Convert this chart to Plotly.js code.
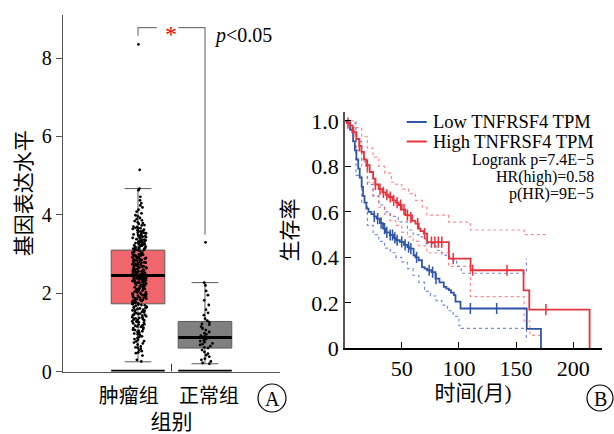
<!DOCTYPE html>
<html><head><meta charset="utf-8">
<script src="https://cdn.plot.ly/plotly-3.0.1.min.js"></script>
<style>html,body{margin:0;padding:0;background:#fff}#chart{width:614px;height:434px}</style>
</head><body><div id="chart"></div>
<script>
// ---------- Panel A data ----------
const groups = ['肿瘤组', '正常组'];
// [lowerfence, q1, median, q3, upperfence]
const tumorBox = [0.25, 1.73, 2.45, 3.1, 4.67];
const normalBox = [0.2, 0.6, 0.87, 1.28, 2.27];
const tumorExpr = [
 8.35, 5.15, 4.67, 4.63, 4.46, 4.37, 4.3, 4.24, 4.19, 4.13, 4.08, 4.04, 3.99, 3.96, 3.92, 3.89, 3.86, 3.84, 3.81, 3.79,
 3.77, 3.74, 3.73, 3.7, 3.69, 3.67, 3.65, 3.64, 3.62, 3.61, 3.59, 3.57, 3.56, 3.55, 3.53, 3.52, 3.5, 3.49, 3.48, 3.46,
 3.45, 3.44, 3.42, 3.41, 3.4, 3.38, 3.37, 3.36, 3.34, 3.33, 3.32, 3.31, 3.29, 3.28, 3.27, 3.26, 3.24, 3.23, 3.22, 3.21,
 3.2, 3.18, 3.17, 3.16, 3.15, 3.14, 3.13, 3.12, 3.11, 3.1, 3.58, 3.47, 3.35, 3.25, 3.19, 3.66, 3.54, 3.43, 3.3, 3.15,
 3.09, 3.08, 3.06, 3.05, 3.04, 3.03, 3.01, 3.0, 2.99, 2.97, 2.96, 2.95, 2.94, 2.92, 2.91, 2.9, 2.89, 2.88, 2.86, 2.85,
 2.84, 2.83, 2.81, 2.8, 2.79, 2.78, 2.77, 2.75, 2.74, 2.73, 2.72, 2.71, 2.69, 2.68, 2.67, 2.66, 2.65, 2.64, 2.62, 2.61,
 2.6, 2.59, 2.58, 2.57, 2.56, 2.55, 2.54, 2.53, 2.52, 2.51, 2.5, 2.49, 2.48, 2.47, 2.46, 3.02, 2.93, 2.87, 2.76, 2.7,
 2.63, 2.57, 2.51, 2.98, 2.82, 2.91, 2.79, 2.68, 2.55, 2.47,
 2.44, 2.43, 2.42, 2.41, 2.4, 2.39, 2.38, 2.37, 2.36, 2.35, 2.34, 2.33, 2.32, 2.31, 2.3, 2.29, 2.28, 2.27, 2.26, 2.24,
 2.23, 2.22, 2.21, 2.2, 2.18, 2.17, 2.16, 2.15, 2.14, 2.12, 2.11, 2.1, 2.09, 2.08, 2.06, 2.05, 2.04, 2.03, 2.01, 2.0,
 1.99, 1.97, 1.96, 1.95, 1.93, 1.92, 1.91, 1.89, 1.88, 1.87, 1.85, 1.84, 1.83, 1.81, 1.8, 1.79, 1.78, 1.76, 1.75, 1.74,
 2.38, 2.25, 2.13, 2.02, 1.94, 1.86, 1.77, 2.19, 2.07, 2.33, 2.28, 1.98, 1.9, 2.41, 1.82, 2.36, 2.22, 2.11, 1.97, 1.85,
 1.72, 1.71, 1.7, 1.69, 1.68, 1.66, 1.65, 1.64, 1.62, 1.61, 1.6, 1.58, 1.57, 1.55, 1.53, 1.52, 1.51, 1.49, 1.47, 1.46,
 1.45, 1.43, 1.41, 1.39, 1.38, 1.36, 1.34, 1.33, 1.31, 1.29, 1.28, 1.26, 1.23, 1.21, 1.2, 1.18, 1.15, 1.14, 1.12, 1.09,
 1.07, 1.06, 1.03, 1.01, 1.56, 1.44, 1.37, 1.25, 1.17, 1.04, 1.63, 1.48, 1.32, 1.27, 1.11,
 0.99, 0.97, 0.95, 0.93, 0.9, 0.88, 0.86, 0.83, 0.81, 0.78, 0.77, 0.74, 0.72, 0.69, 0.64, 0.62, 0.61, 0.58, 0.55, 0.52,
 0.49, 0.47, 0.41, 0.3, 0.26
];
const normalExpr = [
 3.3, 2.27, 2.2, 2.06, 1.95, 1.82, 1.7, 1.58, 1.5, 1.44, 1.35, 1.3, 1.26, 1.22, 1.2, 1.15, 1.1, 1.06, 1.01, 0.98,
 0.95, 0.92, 0.9, 0.88, 0.86, 0.83, 0.8, 0.78, 0.75, 0.72, 0.7, 0.68, 0.65, 0.62, 0.6, 0.55, 0.5, 0.46, 0.42, 0.38,
 0.33, 0.3, 0.26, 0.22, 0.2
];
// significance bracket: [left leg end, top, right leg end]
const bracketY = [8.57, 8.78, 3.49];

// ---------- Panel B data ----------
const lowTime = [0, 3, 5, 7.5, 9, 10.4, 12, 13.3, 15, 16.2, 17.5, 19.1, 21, 23.5, 26, 28, 31, 33.7, 36, 39.6,
 43, 45, 48.3, 52, 55, 57.1, 60.4, 62, 64.8, 67.7, 70, 72.2, 76, 79.5, 83, 86.8, 89, 91.2, 93, 95.6, 97, 101.4, 159.3, 171.7];
const lowSurv = [1.0, 0.99, 0.96, 0.91, 0.87, 0.83, 0.79, 0.75, 0.71, 0.67, 0.64, 0.614, 0.6, 0.59, 0.58, 0.57, 0.55, 0.526, 0.51, 0.498,
 0.485, 0.475, 0.468, 0.455, 0.445, 0.438, 0.409, 0.4, 0.387, 0.357, 0.35, 0.343, 0.335, 0.306, 0.29, 0.27, 0.262, 0.256, 0.245, 0.234, 0.205, 0.175, 0.085, 0];
const highTime = [0, 2, 4.5, 7, 10.4, 13, 14.8, 17, 19.1, 22, 25, 27, 29.8, 33, 36, 38.6, 42, 45, 47.4, 50,
 53.2, 56, 59, 62, 64.9, 66.4, 69.3, 72.2, 91.2, 110.2, 156.5, 161.5, 214.2];
const highSurv = [1.0, 0.99, 0.98, 0.95, 0.92, 0.89, 0.863, 0.83, 0.805, 0.775, 0.746, 0.72, 0.7, 0.685, 0.675, 0.665, 0.65, 0.64, 0.63, 0.61,
 0.585, 0.584, 0.56, 0.548, 0.526, 0.515, 0.504, 0.467, 0.394, 0.343, 0.255, 0.17, 0];
const lowUpT = [0, 5, 10, 15, 20, 25, 30, 35, 40, 47, 55, 60, 65, 71, 80, 85, 92, 98, 102, 159];
const lowUpS = [1.0, 0.99, 0.91, 0.82, 0.72, 0.67, 0.63, 0.6, 0.58, 0.556, 0.52, 0.5, 0.49, 0.46, 0.43, 0.41, 0.39, 0.36, 0.33, 0.395];
const lowLoT = [0, 5, 10, 15, 20, 25, 30, 35, 40, 45, 50, 55, 60, 65, 70, 75, 80, 85, 90, 95, 100, 102, 159];
const lowLoS = [1.0, 0.95, 0.76, 0.64, 0.54, 0.5, 0.47, 0.44, 0.42, 0.4, 0.38, 0.35, 0.32, 0.29, 0.25, 0.23, 0.21, 0.19, 0.165, 0.14, 0.1, 0.088, 0.03];
const highUpT = [0, 5, 10, 15, 20, 25, 30, 35, 41, 45, 50, 56, 62, 68, 72, 91, 110, 157, 176];
const highUpS = [1.0, 1.0, 0.97, 0.93, 0.88, 0.84, 0.8, 0.77, 0.73, 0.72, 0.7, 0.68, 0.65, 0.62, 0.585, 0.555, 0.52, 0.5, 0.5];
const highLoT = [0, 5, 10, 15, 20, 25, 30, 35, 40, 45, 50, 55, 60, 65, 72, 91, 110, 157, 162, 172];
const highLoS = [1.0, 0.955, 0.87, 0.8, 0.73, 0.67, 0.62, 0.59, 0.56, 0.54, 0.51, 0.49, 0.47, 0.45, 0.42, 0.36, 0.227, 0.12, 0.057, 0.057];
const lowCensT = [26, 29, 32, 35, 37, 40, 42, 44, 46, 50, 53, 56, 58, 63, 74, 77, 80, 110, 133];
const lowCensS = [0.58, 0.57, 0.55, 0.526, 0.51, 0.498, 0.498, 0.485, 0.475, 0.468, 0.455, 0.445, 0.438, 0.4, 0.343, 0.335, 0.306, 0.175, 0.175];
const highCensT = [3, 8, 13, 20, 27, 31, 34, 37, 40, 43, 46, 49, 52, 55, 58, 64, 70, 76, 79, 82, 85, 95, 112, 142, 176];
const highCensS = [0.99, 0.95, 0.89, 0.805, 0.72, 0.7, 0.685, 0.675, 0.665, 0.65, 0.64, 0.63, 0.61, 0.585, 0.575, 0.548, 0.504, 0.467, 0.467, 0.467, 0.467, 0.394, 0.343, 0.343, 0.17];
const legendNames = ['Low TNFRSF4 TPM', 'High TNFRSF4 TPM'];
const statLines = ['Logrank p=7.4E\u22125', 'HR(high)=0.58', 'p(HR)=9E\u22125'];
const yTicksA = [0, 2, 4, 6, 8];
const xTicksB = [50, 100, 150, 200];
const yTicksB = [0, 0.2, 0.4, 0.6, 0.8, 1.0];
const yTickTextB = ['0', '0.2', '0.4', '0.6', '0.8', '1.0'];

// ---------- styles ----------
const SERIF = 'Liberation Serif, Times New Roman, serif';
const CJK = 'Liberation Serif, Noto Sans CJK SC, serif';
const BLUE = '#2f55a8', RED = '#e8323c';
const BLUE_CI = 'rgba(70,105,200,0.75)', RED_CI = 'rgba(245,90,100,0.7)';
const W = 614, H = 434;
const px = v => v / W, py = v => 1 - v / H;

const boxWidth = 0.8;
const traces = [];
function statBox(pos, st, fill) {
  return {type: 'box', xaxis: 'x', yaxis: 'y', x: [pos], lowerfence: [st[0]], q1: [st[1]], median: [st[2]], q3: [st[3]], upperfence: [st[4]],
    width: boxWidth, whiskerwidth: 0.5, boxpoints: false, fillcolor: fill, line: {color: '#5a5a5a', width: 1}, showlegend: false, hoverinfo: 'skip'};
}
function pointsBox(pos, vals) {
  return {type: 'box', xaxis: 'x', yaxis: 'y', x0: pos, y: vals, width: boxWidth, boxpoints: 'all', jitter: 0.27, pointpos: 0.05,
    fillcolor: 'rgba(0,0,0,0)', line: {width: 0, color: 'rgba(0,0,0,0)'}, whiskerwidth: 0,
    marker: {size: 2.8, color: '#000'}, showlegend: false, hoverinfo: 'y'};
}
traces.push(statBox(0, tumorBox, '#ef676d'));
traces.push(statBox(1, normalBox, '#808080'));
traces.push(pointsBox(0, tumorExpr));
traces.push(pointsBox(1, normalExpr));
// bracket
traces.push({type: 'scatter', mode: 'lines', xaxis: 'x', yaxis: 'y', x: [0, 0, 0.28, null, 0.6, 1, 1],
  y: [bracketY[0], bracketY[1], bracketY[1], null, bracketY[1], bracketY[1], bracketY[2]],
  line: {color: '#777', width: 1.2}, showlegend: false, hoverinfo: 'skip'});

// KM CIs
function stepLine(t, s, color, dash, width, name) {
  return {type: 'scatter', mode: 'lines', xaxis: 'x2', yaxis: 'y2', x: t, y: s, line: {shape: 'hv', color: color, dash: dash, width: width},
    showlegend: false, name: name, hoverinfo: 'skip'};
}
traces.push(stepLine(lowUpT, lowUpS, BLUE_CI, 'dot', 1.2, 'low upper'));
traces.push(stepLine(lowLoT, lowLoS, BLUE_CI, 'dot', 1.2, 'low lower'));
traces.push(stepLine(highUpT, highUpS, RED_CI, 'dot', 1.2, 'high upper'));
traces.push(stepLine(highLoT, highLoS, RED_CI, 'dot', 1.2, 'high lower'));
traces.push(stepLine(lowTime, lowSurv, BLUE, 'solid', 1.8, legendNames[0]));
traces.push(stepLine(highTime, highSurv, RED, 'solid', 1.8, legendNames[1]));
traces.push({type: 'scatter', mode: 'markers', xaxis: 'x2', yaxis: 'y2', x: lowCensT, y: lowCensS,
  marker: {symbol: 'line-ns-open', size: 8, color: BLUE, line: {color: BLUE, width: 1.5}}, showlegend: false, hoverinfo: 'skip'});
traces.push({type: 'scatter', mode: 'markers', xaxis: 'x2', yaxis: 'y2', x: highCensT, y: highCensS,
  marker: {symbol: 'line-ns-open', size: 8, color: RED, line: {color: RED, width: 1.5}}, showlegend: false, hoverinfo: 'skip'});

const legY = [122, 141.5];
const shapes = [
  // median lines
  {type: 'line', xref: 'x', yref: 'y', x0: -boxWidth / 2, x1: boxWidth / 2, y0: tumorBox[2], y1: tumorBox[2], line: {color: '#000', width: 3}},
  {type: 'line', xref: 'x', yref: 'y', x0: 1 - boxWidth / 2, x1: 1 + boxWidth / 2, y0: normalBox[2], y1: normalBox[2], line: {color: '#000', width: 3}},
  // thick bars on baseline
  {type: 'line', xref: 'x', yref: 'y', x0: -boxWidth / 2, x1: boxWidth / 2, y0: 0, y1: 0, line: {color: '#000', width: 3.5}},
  {type: 'line', xref: 'x', yref: 'y', x0: 1 - boxWidth / 2, x1: 1 + boxWidth / 2, y0: 0, y1: 0, line: {color: '#000', width: 3.5}},
  {type: 'line', xref: 'x', yref: 'y', x0: 0.5, x1: 0.5, y0: 0, y1: 0.2, line: {color: '#333', width: 1}},
  // panel labels
  {type: 'circle', xref: 'paper', yref: 'paper', x0: px(258), x1: px(286), y0: py(412), y1: py(384), line: {color: '#000', width: 1.2}},
  {type: 'circle', xref: 'paper', yref: 'paper', x0: px(587), x1: px(613), y0: py(411), y1: py(385), line: {color: '#000', width: 1.2}},
  // legend line samples
  {type: 'line', xref: 'paper', yref: 'paper', x0: px(406.7), x1: px(426.7), y0: py(legY[0]), y1: py(legY[0]), line: {color: BLUE, width: 2}},
  {type: 'line', xref: 'paper', yref: 'paper', x0: px(406.7), x1: px(426.7), y0: py(legY[1]), y1: py(legY[1]), line: {color: RED, width: 2}}
];

const annotations = [
  {xref: 'x', yref: 'y', x: 0.49, y: bracketY[1], xanchor: 'center', yanchor: 'middle', text: '*', showarrow: false, font: {family: SERIF, size: 24, color: '#ff0000'}, yshift: -6},
  {xref: 'paper', yref: 'paper', x: px(212), y: py(35), xanchor: 'left', yanchor: 'middle', text: '<i>p</i>&lt;0.05', showarrow: false, font: {family: SERIF, size: 20, color: '#000'}},
  {xref: 'paper', yref: 'paper', x: px(272), y: py(398.5), xanchor: 'center', yanchor: 'middle', text: 'A', showarrow: false, font: {family: SERIF, size: 20, color: '#000'}},
  {xref: 'paper', yref: 'paper', x: px(600), y: py(398.5), xanchor: 'center', yanchor: 'middle', text: 'B', showarrow: false, font: {family: SERIF, size: 20, color: '#000'}},
  {xref: 'paper', yref: 'paper', x: px(431.7), y: py(legY[0]), xanchor: 'left', yanchor: 'middle', text: legendNames[0], showarrow: false, font: {family: SERIF, size: 18.5, color: '#000'}, borderpad: 0},
  {xref: 'paper', yref: 'paper', x: px(431.7), y: py(legY[1]), xanchor: 'left', yanchor: 'middle', text: legendNames[1], showarrow: false, font: {family: SERIF, size: 18.5, color: '#000'}, borderpad: 0}
];
const statY = [160, 177.3, 194];
statLines.forEach((s, i) => annotations.push({xref: 'paper', yref: 'paper', x: px(595), y: py(statY[i]), xanchor: 'right', yanchor: 'middle',
  text: s, showarrow: false, borderpad: 0, font: {family: SERIF, size: 16, color: '#000'}}));

const layout = {
  width: W, height: H, margin: {l: 0, r: 0, t: 0, b: 0}, paper_bgcolor: '#fff', plot_bgcolor: 'rgba(0,0,0,0)',
  showlegend: false, boxmode: 'overlay',
  xaxis: {domain: [px(63), px(280)], range: [-1.12, 2.12], anchor: 'y', showline: true, linecolor: '#555', linewidth: 1.3,
    tickvals: [-0.14, 1.06], ticktext: groups, ticks: '', ticklabelstandoff: 6, tickfont: {family: CJK, size: 20, color: '#000'}, showgrid: false, zeroline: false,
    title: {text: '组别', font: {family: CJK, size: 21, color: '#000'}, standoff: 14}},
  yaxis: {domain: [py(371.6), py(15)], range: [0, 9.1], anchor: 'x', showline: true, linecolor: '#555', linewidth: 1.3,
    tickvals: yTicksA, ticks: 'outside', ticklen: 6, tickcolor: '#555', tickfont: {family: SERIF, size: 20, color: '#000'}, showgrid: false, zeroline: false,
    title: {text: '基因表达水平', font: {family: CJK, size: 21, color: '#000'}, standoff: 4}},
  xaxis2: {domain: [px(344.5), px(601.7)], range: [0, 224.8], anchor: 'y2', showline: true, linecolor: '#000', linewidth: 1.3,
    tickvals: xTicksB, ticks: 'inside', ticklen: 6, tickcolor: '#000', tickfont: {family: SERIF, size: 22, color: '#000'}, showgrid: false, zeroline: false,
    title: {text: '时间(月)', font: {family: CJK, size: 21, color: '#000'}, standoff: 4}},
  yaxis2: {domain: [py(348.3), py(111.7)], range: [0, 1.04], anchor: 'x2', showline: true, linecolor: '#555', linewidth: 1.3,
    tickvals: yTicksB, ticktext: yTickTextB, ticks: 'inside', ticklen: 6, tickcolor: '#000', tickfont: {family: SERIF, size: 22, color: '#000'}, showgrid: false, zeroline: false,
    title: {text: '生存率', font: {family: CJK, size: 21, color: '#000'}, standoff: 8}},
  shapes: shapes, annotations: annotations
};
Plotly.newPlot('chart', traces, layout, {staticPlot: true, displayModeBar: false});
</script></body></html>
